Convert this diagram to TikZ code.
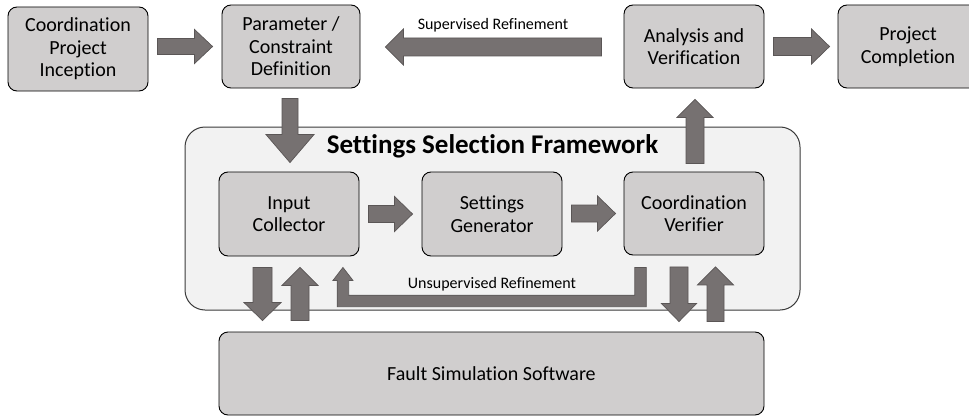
\documentclass[tikz,border=0pt]{standalone}
\usepackage{fontspec}
\setmainfont{Carlito}[Ligatures=NoCommon]
\usetikzlibrary{calc}
\definecolor{boxgray}{HTML}{D0CECE}
\definecolor{arrgray}{HTML}{767171}
\definecolor{arredge}{HTML}{5A5656}
\definecolor{framegray}{HTML}{F2F2F2}
\definecolor{frameedge}{HTML}{3A3A3A}
\tikzset{
  box/.style={draw=black, line width=0.9pt, fill=boxgray, rounded corners=9pt,
    align=center, font=\fontsize{20}{22.5}\selectfont, inner sep=0pt},
  barrow/.style={fill=arrgray, draw=arredge, line width=0.7pt},
  lbl/.style={font=\fontsize{16}{18}\selectfont, anchor=base, inner sep=0pt},
}
\newcommand\arrR[5]{\draw[barrow] let \p1=#1, \p2=#2 in (\x1,\y2+#3) -- (\x2-#5,\y2+#3) -- (\x2-#5,\y2+#4) -- (\x2,\y2) -- (\x2-#5,\y2-#4) -- (\x2-#5,\y2-#3) -- (\x1,\y2-#3) -- cycle;}
\newcommand\arrL[5]{\draw[barrow] let \p1=#1, \p2=#2 in (\x1,\y1+#3) -- (\x2+#5,\y1+#3) -- (\x2+#5,\y1+#4) -- (\x2,\y1) -- (\x2+#5,\y1-#4) -- (\x2+#5,\y1-#3) -- (\x1,\y1-#3) -- cycle;}
\newcommand\arrD[5]{\draw[barrow] let \p1=#1, \p2=#2 in (\x1-#3,\y1) -- (\x1-#3,\y2+#5) -- (\x1-#4,\y2+#5) -- (\x1,\y2) -- (\x1+#4,\y2+#5) -- (\x1+#3,\y2+#5) -- (\x1+#3,\y1) -- cycle;}
\newcommand\arrU[5]{\draw[barrow] let \p1=#1, \p2=#2 in (\x1-#3,\y1) -- (\x1-#3,\y2-#5) -- (\x1-#4,\y2-#5) -- (\x1,\y2) -- (\x1+#4,\y2-#5) -- (\x1+#3,\y2-#5) -- (\x1+#3,\y1) -- cycle;}
\begin{document}
\begin{tikzpicture}[x=1pt,y=-1pt]
\path[use as bounding box, clip] (0,0) rectangle (969,420);
\fill[white] (0,0) rectangle (969,420);

% container
\node[draw=frameedge, line width=1pt, fill=framegray, rounded corners=20pt,
  minimum width=615pt, minimum height=183pt, inner sep=0pt] (frame) at (492.5,218.5) {};
\node[font=\fontsize{27}{30}\selectfont\bfseries, anchor=base, inner sep=0pt] (title) at (492.5,153) {Settings Selection Framework};

% boxes
\node[box, minimum width=140pt, minimum height=84pt] (inc) at (78,49) {Coordination\\Project\\Inception};
\node[box, minimum width=138pt, minimum height=83pt] (par) at (291,46.5) {Parameter /\\Constraint\\Definition};
\node[box, minimum width=140pt, minimum height=83pt] (ana) at (694,46.5) {Analysis and\\Verification};
\node[box, minimum width=140pt, minimum height=83pt] (comp) at (908,46.5) {Project\\Completion};
\node[box, minimum width=140pt, minimum height=84pt] (inp) at (289,214) {Input\\Collector};
\node[box, minimum width=140pt, minimum height=84pt] (gen) at (492,214) {Settings\\Generator};
\node[box, minimum width=140pt, minimum height=83pt] (ver) at (694,213.5) {Coordination\\Verifier};
\node[box, minimum width=545pt, minimum height=83pt] (fault) at (491.5,373.5) {Fault Simulation Software};

% labels
\node[lbl] (suplbl) at (493,30) {Supervised Refinement};
\node[lbl] (unsuplbl) at (492,288) {Unsupervised Refinement};

% block arrows
\arrR{($(inc.east)+(9,0)$)}{($(par.west)+(-9,0)$)}{8}{17}{18}
\arrR{($(ana.east)+(9,0)$)}{($(comp.west)+(-8,0)$)}{9}{17.5}{18}
\arrL{($(ana.west)+(-22,0.5)$)}{($(par.east)+(25,0)$)}{9}{18}{18}
\arrD{($(par.south)+(-1,10)$)}{($(inp.north)+(0,-9)$)}{8}{24}{28}
\arrU{($(ver.north)+(1,-8)$)}{($(ana.south)+(0,11)$)}{9}{18}{18}
\arrR{($(inp.east)+(9,0)$)}{($(gen.west)+(-9,0)$)}{8.5}{17.5}{18}
\arrR{($(gen.east)+(9,0)$)}{($(ver.west)+(-8,0)$)}{8.5}{17.5}{18}
\arrD{($(inp.south)+(-26.5,11)$)}{($(fault.north)+(0,-11)$)}{9.5}{18.5}{18}
\arrU{($(fault.north -| inp.south)+(11,-11)$)}{($(inp.south)+(0,11)$)}{9}{18}{18}
\arrD{($(ver.south)+(-15,11.5)$)}{($(fault.north)+(0,-10)$)}{9}{17.5}{18}
\arrU{($(fault.north -| ver.south)+(21.5,-10)$)}{($(ver.south)+(0,11.5)$)}{8.5}{18}{18}

% unsupervised refinement L-shaped arrow
\coordinate (ua) at ($(ver.south west)+(17,12)$);
\coordinate (ub) at ($(inp.south east)+(-16.5,11)$);
\draw[barrow] let \p1=(ua), \p2=(ub) in
  (\x1+5.75,\y1) -- (\x1+5.75,\y1-39.25) -- (\x2-5.75,\y1-39.25) -- (\x2-5.75,\y2-13)
  -- (\x2-10,\y2-13) -- (\x2,\y2) -- (\x2+10,\y2-13) -- (\x2+5.75,\y2-13)
  -- (\x2+5.75,\y1-27.75) -- (\x1-5.75,\y1-27.75) -- (\x1-5.75,\y1) -- cycle;
\end{tikzpicture}
\end{document}
